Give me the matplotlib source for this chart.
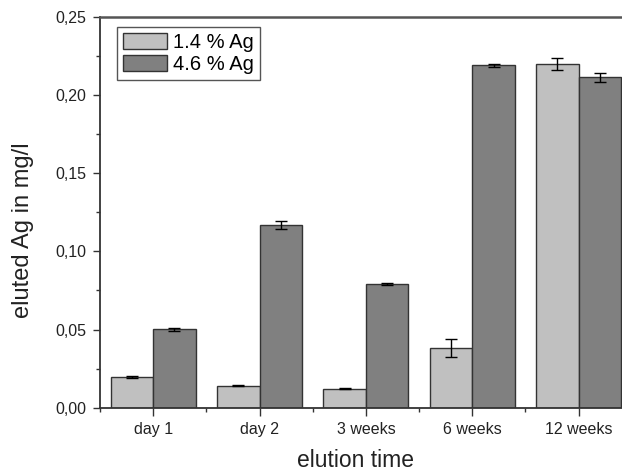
import numpy as np
import matplotlib.pyplot as plt
from matplotlib.ticker import MultipleLocator, FixedLocator, FuncFormatter

plt.rcParams['font.family'] = ['Liberation Sans', 'DejaVu Sans']

categories = ["day 1", "day 2", "3 weeks", "6 weeks", "12 weeks"]
low_ag = [0.0195, 0.0141, 0.0122, 0.0380, 0.2197]
low_err = [0.0005, 0.0005, 0.0002, 0.0058, 0.0038]
high_ag = [0.0502, 0.1169, 0.0790, 0.2190, 0.2114]
high_err = [0.0010, 0.0024, 0.0008, 0.0010, 0.0030]

fig = plt.figure(figsize=(6.22, 4.71), dpi=100)
ax = fig.add_axes([0.1608, 0.1344, 0.855, 0.8296])

x = np.arange(1, len(categories) + 1)
w = 0.4
ekw = dict(ecolor="black", elinewidth=1.0, capsize=4, capthick=1.0)
ax.bar(x - w / 2, low_ag, w, yerr=low_err, color="#c0c0c0", edgecolor="#333333",
       linewidth=1.0, label="1.4 % Ag", error_kw=ekw)
ax.bar(x + w / 2, high_ag, w, yerr=high_err, color="#808080", edgecolor="#333333",
       linewidth=1.0, label="4.6 % Ag", error_kw=ekw)

ax.set_xlim(0.5, 5.5)
ax.set_ylim(0, 0.25)
ax.set_xticks(x)
ax.set_xticklabels(categories, fontsize=11.5, color="#222222")
ax.xaxis.set_minor_locator(FixedLocator(np.arange(0.5, 6.0, 1.0)))
ax.yaxis.set_major_locator(MultipleLocator(0.05))
ax.yaxis.set_minor_locator(MultipleLocator(0.025))
ax.yaxis.set_major_formatter(FuncFormatter(lambda v, p: f"{v:.2f}".replace(".", ",")))
ax.tick_params(axis="y", labelsize=11.5, labelcolor="#222222", pad=5)

ax.tick_params(which="major", direction="out", length=5, width=1.0, color="#333333")
ax.tick_params(which="minor", direction="out", length=3, width=1.0, color="#333333")
ax.tick_params(axis="x", which="major", length=6, pad=4)

ax.spines["right"].set_visible(False)
ax.spines["top"].set_color("#555555")
ax.spines["top"].set_linewidth(1.8)
ax.spines["left"].set_color("#333333")
ax.spines["left"].set_linewidth(1.3)
ax.spines["bottom"].set_color("#333333")
ax.spines["bottom"].set_linewidth(1.3)

ax.set_xlabel("elution time", fontsize=16.5, color="#222222")
ax.set_ylabel("eluted Ag in mg/l", fontsize=17, color="#222222")
ax.xaxis.set_label_coords(0.481, -0.106)
ax.yaxis.set_label_coords(-0.124, 0.455)

leg = ax.legend(loc="upper left", bbox_to_anchor=(0.032, 0.975), fontsize=14.5,
                fancybox=False, edgecolor="#555555", framealpha=1,
                handlelength=2.2, handleheight=0.85, handletextpad=0.3,
                borderpad=0.3, labelspacing=0.15, borderaxespad=0)
leg.get_frame().set_linewidth(1.0)

fig.savefig("out.png", dpi=100)
